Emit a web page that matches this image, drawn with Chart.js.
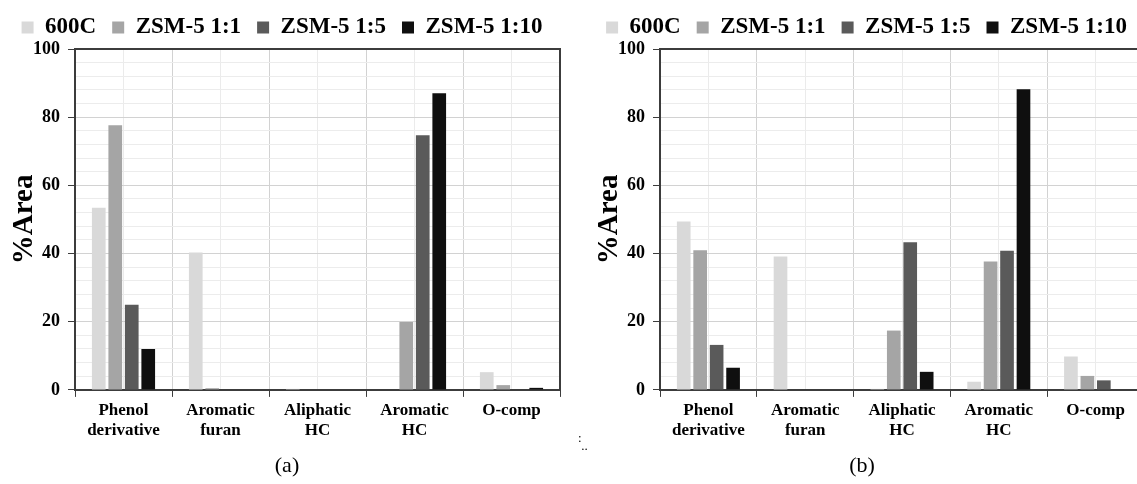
<!DOCTYPE html>
<html>
<head>
<meta charset="utf-8">
<script src="https://cdn.jsdelivr.net/npm/chart.js@4.4.1/dist/chart.umd.min.js"></script>
<style>
  body { margin: 0; width: 1137px; height: 484px; overflow: hidden; background: #fff; position: relative; }
  canvas { position: absolute; top: 0; }
  #chartA { left: 0; }
  #chartB { left: 585px; }
  .cap { position: absolute; font-family: "Liberation Serif", "Times New Roman", serif; font-size: 22px; color: #000; transform: translateX(-50%); }
  .dots { position: absolute; left: 578px; top: 434px; font-family: "Liberation Serif", serif; font-size: 13px; line-height: 8px; color: #000; }
</style>
</head>
<body>
<canvas id="chartA" width="572" height="484"></canvas>
<canvas id="chartB" width="574" height="484"></canvas>
<div class="cap" style="left:287px; top:452px;">(a)</div>
<div class="cap" style="left:862px; top:452px;">(b)</div>
<div class="dots">:<br>&nbsp;..</div>
<script>
// categories and series names
const categories = [["Phenol", "derivative"], ["Aromatic", "furan"], ["Aliphatic", "HC"], ["Aromatic", "HC"], ["O-comp"]];
const seriesNames = ["600C", "ZSM-5 1:1", "ZSM-5 1:5", "ZSM-5 1:10"];
const seriesColors = ["#d9d9d9", "#a5a5a5", "#5a5a5a", "#0f0f0f"];

// panel (a) values, %Area
const a600 = [53.4, 40.3, 0.3, 0, 5.2];
const a11 = [77.6, 0.5, 0, 19.9, 1.4];
const a15 = [25.0, 0, 0, 74.7, 0];
const a110 = [12.0, 0, 0, 87.0, 0.6];

// panel (b) values, %Area
const b600 = [49.4, 39.1, 0.3, 2.4, 9.8];
const b11 = [41.0, 0, 17.4, 37.7, 4.1];
const b15 = [13.2, 0, 43.3, 40.8, 2.8];
const b110 = [6.5, 0, 5.3, 88.2, 0];

const yTicks = [0, 20, 40, 60, 80, 100];

const serif = "'Liberation Serif', 'Times New Roman', serif";
const axisDark = "#3c3c3c";

function makeChart(id, series, padRight) {
  const ctx = document.getElementById(id).getContext("2d");
  return new Chart(ctx, {
    type: "bar",
    data: {
      labels: categories,
      datasets: series.map((values, i) => ({
        label: seriesNames[i],
        data: values,
        backgroundColor: seriesColors[i],
        barPercentage: 0.83,
        categoryPercentage: 0.68,
        xAxisID: "x",
        yAxisID: "y",
      })),
    },
    options: {
      responsive: false,
      animation: false,
      layout: { padding: { left: 4, right: padRight, top: 0, bottom: 40 } },
      plugins: {
        tooltip: { enabled: false },
        legend: {
          position: "top",
          labels: {
            boxWidth: 12,
            boxHeight: 12,
            padding: 16,
            color: "#000",
            font: { family: serif, size: 23, weight: "bold" },
          },
        },
      },
      scales: {
        x: {
          position: "bottom",
          grid: {
            offset: true,
            color: "#d2d2d2",
            tickColor: axisDark,
            tickLength: 7,
          },
          border: { color: axisDark, width: 2 },
          ticks: {
            color: "#000",
            padding: 4,
            maxRotation: 0,
            autoSkip: false,
            font: { family: serif, size: 17, weight: "bold", lineHeight: 1.15 },
          },
        },
        x2: {
          type: "category",
          position: "top",
          labels: categories,
          offset: true,
          grid: { offset: false, color: "#ebebeb", drawTicks: false },
          border: { color: axisDark, width: 2 },
          ticks: { display: false },
        },
        y: {
          min: 0,
          max: 100,
          grid: {
            color: (c) => (yTicks.includes(c.tick.value) ? "#d2d2d2" : "#ececec"),
            tickColor: (c) => (yTicks.includes(c.tick.value) ? axisDark : "rgba(0,0,0,0)"),
            tickLength: 7,
          },
          border: { color: axisDark, width: 2 },
          ticks: {
            stepSize: 4,
            autoSkip: false,
            padding: 8,
            color: "#000",
            font: { family: serif, size: 18, weight: "bold" },
            callback: (v) => (yTicks.includes(v) ? v : ""),
          },
          title: {
            display: true,
            text: "%Area",
            color: "#000",
            padding: { top: 6, bottom: -14 },
            font: { family: serif, size: 29, weight: "bold", lineHeight: 1 },
          },
        },
        y2: {
          position: "right",
          min: 0,
          max: 100,
          grid: { drawOnChartArea: false, drawTicks: false },
          border: { color: axisDark, width: 2 },
          ticks: { display: false },
        },
      },
    },
  });
}

makeChart("chartA", [a600, a11, a15, a110], 12);
makeChart("chartB", [b600, b11, b15, b110], 15);
</script>
</body>
</html>
